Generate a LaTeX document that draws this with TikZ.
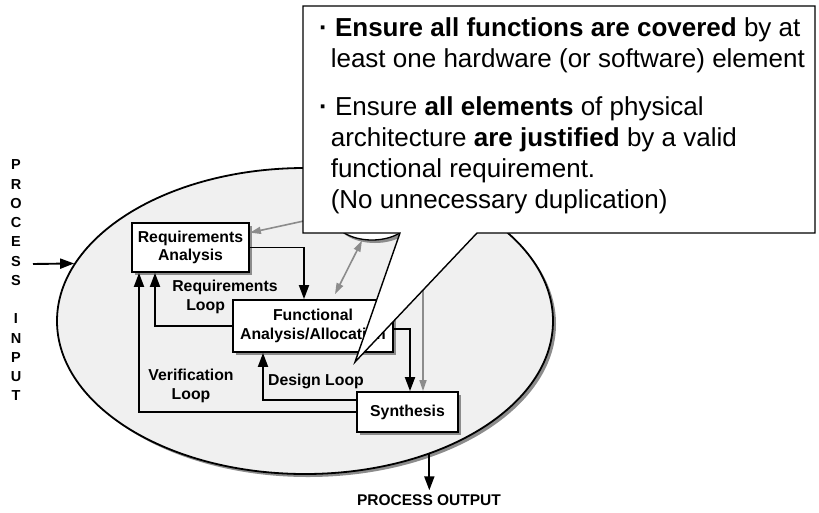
\documentclass[tikz,border=0pt]{standalone}
\usepackage{fontspec}
\setmainfont{Liberation Sans}
\usetikzlibrary{arrows.meta,positioning,shapes.geometric,shadows}

\begin{document}
\begin{tikzpicture}[x=1pt,y=-1pt,
  shade3/.style={drop shadow={shadow xshift=3pt,shadow yshift=-3pt,fill=black!45,opacity=1}},
  box/.style={draw,line width=1.8pt,fill=white,inner sep=0pt,align=center,
    font=\fontsize{15.8}{18.5}\selectfont\bfseries,shade3},
  lbl/.style={inner sep=0pt,align=center,font=\fontsize{15.8}{19}\selectfont\bfseries},
  flow/.style={line width=1.9pt,-{Triangle[length=14pt,width=10pt]}},
  ctrlflow/.style={line width=1.6pt,black!45,-{Triangle[length=11pt,width=7pt]}}]
  \useasboundingbox (0,0) rectangle (819,512);

  % the process bubble
  \node[ellipse,draw,line width=1.8pt,fill=black!6,inner sep=0pt,
    minimum width=496pt,minimum height=306pt,shade3] (proc) at (305,321) {};

  % the three steps
  \node[box,minimum width=117pt,minimum height=49pt] (RA) at (190.5,247.5) {Requirements\\Analysis};
  \node[box,minimum width=160pt,minimum height=52pt] (FA) at (313,326) {Functional\\Analysis/Allocation};
  \node[box,minimum width=101pt,minimum height=40pt] (Syn) at (407.5,412) {Synthesis};

  \node[lbl,align=left] (rloop) at (225,297) {Requirements\\\hspace*{14pt}Loop};
  \node[lbl] (vloop) at (191,386) {Verification\\Loop};
  \node[lbl] (dloop) at (316,381) {Design Loop};

  \draw[flow] (RA.east) -| ([xshift=-9pt]FA.north);
  \draw[flow] (FA.west) -| ([xshift=-35.5pt]RA.south);
  \draw[flow] (Syn.west) -| ([xshift=-51.5pt]RA.south);
  \draw[flow] ([yshift=12pt]Syn.west) -| ([xshift=-50pt]FA.south);
  \draw[flow] ([yshift=-3pt]FA.east) -| ([xshift=2.5pt]Syn.north);

  % control links, mostly hidden by the callout
  \node[ellipse,draw,line width=1.3pt,fill=white,inner sep=0pt,
    minimum width=80pt,minimum height=50pt,shade3] (ctrl) at (372,215) {};
  \coordinate (ctrlout) at (423,225);
  \draw[ctrlflow] (ctrl.west) -- (RA.14);
  \draw[ctrlflow,{Triangle[length=11pt,width=7pt]}-{Triangle[length=11pt,width=7pt]}]
    ([xshift=-10pt]ctrl.south) -- ([xshift=22pt,yshift=5pt]FA.north);
  \draw[ctrlflow] (ctrlout) -- (ctrlout |- Syn.north);

  % callout
  \draw[line width=1.4pt,fill=white] (303,6) -- (815,6) -- (815,233) -- (477,233)
    -- (355,362) -- (400,233) -- (303,233) -- cycle;
  \node[anchor=north west,align=left,inner sep=0pt,
    font=\fontsize{26}{31}\selectfont] (note) at (319,17.5)
    {\textbf{·} \textbf{Ensure all functions are covered} by at\\
     \hspace*{11.6pt}least one hardware (or software) element\\[17pt]
     \textbf{·} Ensure \textbf{all elements} of physical\\
     \hspace*{11.6pt}architecture \textbf{are justified} by a valid\\
     \hspace*{11.6pt}functional requirement.\\
     \hspace*{11.6pt}(No unnecessary duplication)};

  % input and output
  \node[inner sep=0pt,align=center,font=\fontsize{14.5}{19.25}\selectfont\bfseries] (pin) at (16,280.5)
    {P\\R\\O\\C\\E\\S\\S\\[19.25pt]I\\N\\P\\U\\T};
  \coordinate (inarr) at (33,264);
  \draw[flow] (inarr) -- (proc.166);

  \node[inner sep=0pt,font=\fontsize{15.5}{18}\selectfont\bfseries] (pout) at (429,500) {PROCESS OUTPUT};
  \draw[flow,shorten >=4pt] (proc.-47) -- (proc.-47 |- pout.north);
\end{tikzpicture}
\end{document}
